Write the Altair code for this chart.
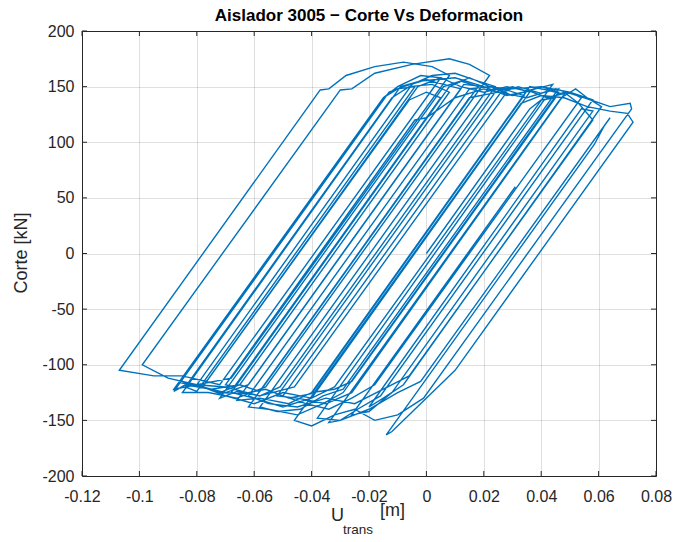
import altair as alt
import pandas as pd

# Hysteresis path vertices
u_trans_m = [
    0.000, 0.036, 0.040, 0.045, -0.026, -0.032, -0.040, 0.036, 0.042, 0.048,
    -0.026, -0.035, -0.045, -0.052, 0.024, 0.030, 0.036, -0.040, -0.050, -0.060,
    -0.068, 0.008, 0.015, 0.022, 0.028, -0.046, -0.058, -0.070, -0.080, -0.088,
    -0.015, -0.010, -0.002, 0.005, -0.072, -0.085, -0.095, -0.107, -0.037, -0.034,
    -0.028, -0.018, -0.008, 0.002, 0.008, -0.068, -0.080, -0.090, -0.099, -0.030,
    -0.026, -0.018, -0.005, 0.008, 0.015, 0.022, -0.056, -0.066, -0.076, -0.085,
    -0.009, -0.002, 0.010, 0.020, 0.030, 0.040, 0.046, -0.029, -0.036, -0.045,
    -0.055, -0.062, 0.015, 0.025, 0.035, 0.045, 0.055, 0.064, 0.071, 0.0715,
    -0.001, -0.010, -0.018, -0.025, -0.032, -0.040, -0.046, 0.033, 0.040, 0.048,
    0.056, 0.064, 0.070, 0.072, 0.010, 0.004, -0.004, -0.012, -0.014, 0.0585,
    0.062, 0.064, -0.002, -0.010, -0.020, -0.030, -0.038, 0.041, 0.048, 0.053,
    0.058, -0.006, -0.015, -0.025, -0.035, -0.045, -0.055, -0.062, 0.015, 0.022,
    0.030, 0.038, 0.044, -0.032, -0.040, -0.050, -0.060, -0.070, -0.078, -0.003,
    0.005, 0.012, 0.020, 0.028, 0.035, -0.040, -0.048, -0.058, -0.066, 0.013,
    0.020, 0.028, 0.036, 0.042, 0.050, 0.054, -0.018, -0.026, -0.034, -0.042,
    -0.050, 0.026, 0.032, 0.040, 0.046, -0.029, -0.036, -0.044, -0.052, -0.058,
    0.022, 0.028, 0.034, -0.040, -0.048, -0.056, -0.064, -0.072, -0.080, -0.005,
    0.002, 0.010, 0.018, 0.024, -0.051, -0.058, -0.066, -0.072, 0.006, 0.012,
    0.018, -0.058, -0.065, -0.075, -0.084, -0.088, -0.013, -0.008, 0.000, 0.006,
    0.012, -0.062, -0.070, -0.078, -0.086, -0.015, -0.010, -0.004, -0.080, -0.084,
    -0.012, -0.006, 0.002, 0.008, -0.065, -0.072, -0.078, -0.006, 0.000, 0.005,
    -0.067, -0.070, -0.004, 0.000, 0.010, 0.020, 0.030, 0.040, 0.050, 0.058,
    -0.016, -0.024, -0.030, -0.034, 0.047, 0.052, 0.056, 0.061, -0.008, -0.015,
    -0.020, 0.054, 0.058, -0.012, -0.020, -0.026, 0.031,
]
corte_kN = [
    0, 130, 138, 140, -115, -122, -125, 150, 147, 143,
    -125, -135, -130, -128, 145, 150, 145, -130, -138, -130,
    -125, 150, 158, 150, 145, -120, -128, -120, -118, -122,
    140, 150, 160, 158, -118, -110, -110, -105, 147, 148,
    160, 168, 172, 168, 160, -112, -118, -112, -100, 147,
    148, 162, 170, 175, 170, 160, -120, -130, -125, -125,
    150, 155, 158, 150, 148, 150, 145, -125, -135, -145,
    -140, -138, 140, 145, 140, 148, 140, 132, 135, 130,
    -130, -145, -150, -140, -145, -155, -150, 135, 142, 140,
    132, 128, 126, 118, -105, -120, -140, -160, -163, 98,
    115, 122, -115, -125, -140, -150, -148, 138, 145, 135,
    120, -110, -122, -135, -130, -138, -135, -128, 148, 150,
    142, 148, 152, -120, -130, -125, -135, -128, -120, 150,
    158, 150, 145, 150, 146, -125, -135, -130, -132, 152,
    150, 142, 146, 140, 145, 140, -118, -130, -140, -135,
    -128, 145, 150, 144, 148, -122, -128, -140, -142, -138,
    150, 147, 142, -126, -130, -122, -126, -125, -118, 152,
    160, 162, 155, 150, -120, -128, -124, -130, 150, 155,
    150, -124, -118, -122, -118, -124, 145, 150, 156, 152,
    148, -118, -125, -120, -116, 140, 148, 150, -124, -120,
    140, 150, 152, 145, -118, -125, -120, 138, 145, 140,
    -120, -118, 120, 122, 140, 148, 142, 150, 145, 138,
    -128, -140, -150, -152, 140, 148, 140, 132, -118, -130,
    -138, 130, 128, -125, -142, -145, 60,
]

x_ticks = [-0.12, -0.1, -0.08, -0.06, -0.04, -0.02, 0, 0.02, 0.04, 0.06, 0.08]
y_ticks = [-200, -150, -100, -50, 0, 50, 100, 150, 200]

title_text = ["Aislador 3005 \u2212 Corte Vs Deformacion"]
ylabel_text = ["Corte [kN]"]
xlabel_main = ["U"]
xlabel_sub = ["trans"]
xlabel_unit = ["[m]"]

W, H = 574, 445
FONT = "Liberation Sans"
TXT = "#262626"

df = pd.DataFrame({"u": u_trans_m, "v": corte_kN, "i": list(range(len(u_trans_m)))})
xt = pd.DataFrame({"u": x_ticks})
yt = pd.DataFrame({"v": y_ticks})

xscale = alt.Scale(domain=[-0.12, 0.08], nice=False, zero=False)
yscale = alt.Scale(domain=[-200, 200], nice=False, zero=False)

label_expr = "'' + datum.value"

xaxis = alt.Axis(
    values=x_ticks, labelExpr=label_expr, title=None, grid=True,
    gridColor="#262626", gridOpacity=0.15, domain=False, ticks=False,
    labelFont=FONT, labelFontSize=16, labelColor=TXT, labelPadding=12,
    labelFlush=False)
yaxis = alt.Axis(
    values=y_ticks, labelExpr=label_expr, title=None, grid=True,
    gridColor="#262626", gridOpacity=0.15, domain=False, ticks=False,
    labelFont=FONT, labelFontSize=16, labelColor=TXT, labelPadding=8)

X = alt.X("u:Q", scale=xscale, axis=xaxis)
Y = alt.Y("v:Q", scale=yscale, axis=yaxis)

line = alt.Chart(df).mark_line(color="#0072BD", strokeWidth=1.4).encode(
    x=X, y=Y, order="i:Q")

tick_len = 5
xb = alt.Chart(xt).mark_rule(color=TXT, strokeWidth=1).encode(
    x=X, y=alt.value(H), y2=alt.value(H - tick_len))
xtp = alt.Chart(xt).mark_rule(color=TXT, strokeWidth=1).encode(
    x=X, y=alt.value(0), y2=alt.value(tick_len))
yl = alt.Chart(yt).mark_rule(color=TXT, strokeWidth=1).encode(
    y=Y, x=alt.value(0), x2=alt.value(tick_len))
yr = alt.Chart(yt).mark_rule(color=TXT, strokeWidth=1).encode(
    y=Y, x=alt.value(W), x2=alt.value(W - tick_len))

title = alt.Chart(pd.DataFrame({"s": title_text})).mark_text(
    font=FONT, fontSize=17, fontWeight="bold", color="#000000",
    align="center", baseline="alphabetic").encode(
    text="s:N", x=alt.value(W / 2), y=alt.value(-10))

ylab = alt.Chart(pd.DataFrame({"s": ylabel_text})).mark_text(
    font=FONT, fontSize=18, color=TXT, angle=270,
    align="center", baseline="middle").encode(
    text="s:N", x=alt.value(-60), y=alt.value(222))

xl1 = alt.Chart(pd.DataFrame({"s": xlabel_main})).mark_text(
    font=FONT, fontSize=18, color=TXT, align="left", baseline="alphabetic").encode(
    text="s:N", x=alt.value(249), y=alt.value(490))
xl2 = alt.Chart(pd.DataFrame({"s": xlabel_sub})).mark_text(
    font=FONT, fontSize=13.5, color=TXT, align="left", baseline="alphabetic").encode(
    text="s:N", x=alt.value(261), y=alt.value(503))
xl3 = alt.Chart(pd.DataFrame({"s": xlabel_unit})).mark_text(
    font=FONT, fontSize=18, color=TXT, align="left", baseline="alphabetic").encode(
    text="s:N", x=alt.value(298), y=alt.value(485))

chart = alt.layer(line, xb, xtp, yl, yr, title, ylab, xl1, xl2, xl3).properties(
    width=W, height=H,
    autosize=alt.AutoSizeParams(type="none"),
    padding={"left": 82, "top": 31, "right": 17, "bottom": 66},
    background="white",
).configure_view(stroke=TXT, strokeWidth=1)

chart.save("out.html", embed_options={"renderer": "svg", "actions": False})
